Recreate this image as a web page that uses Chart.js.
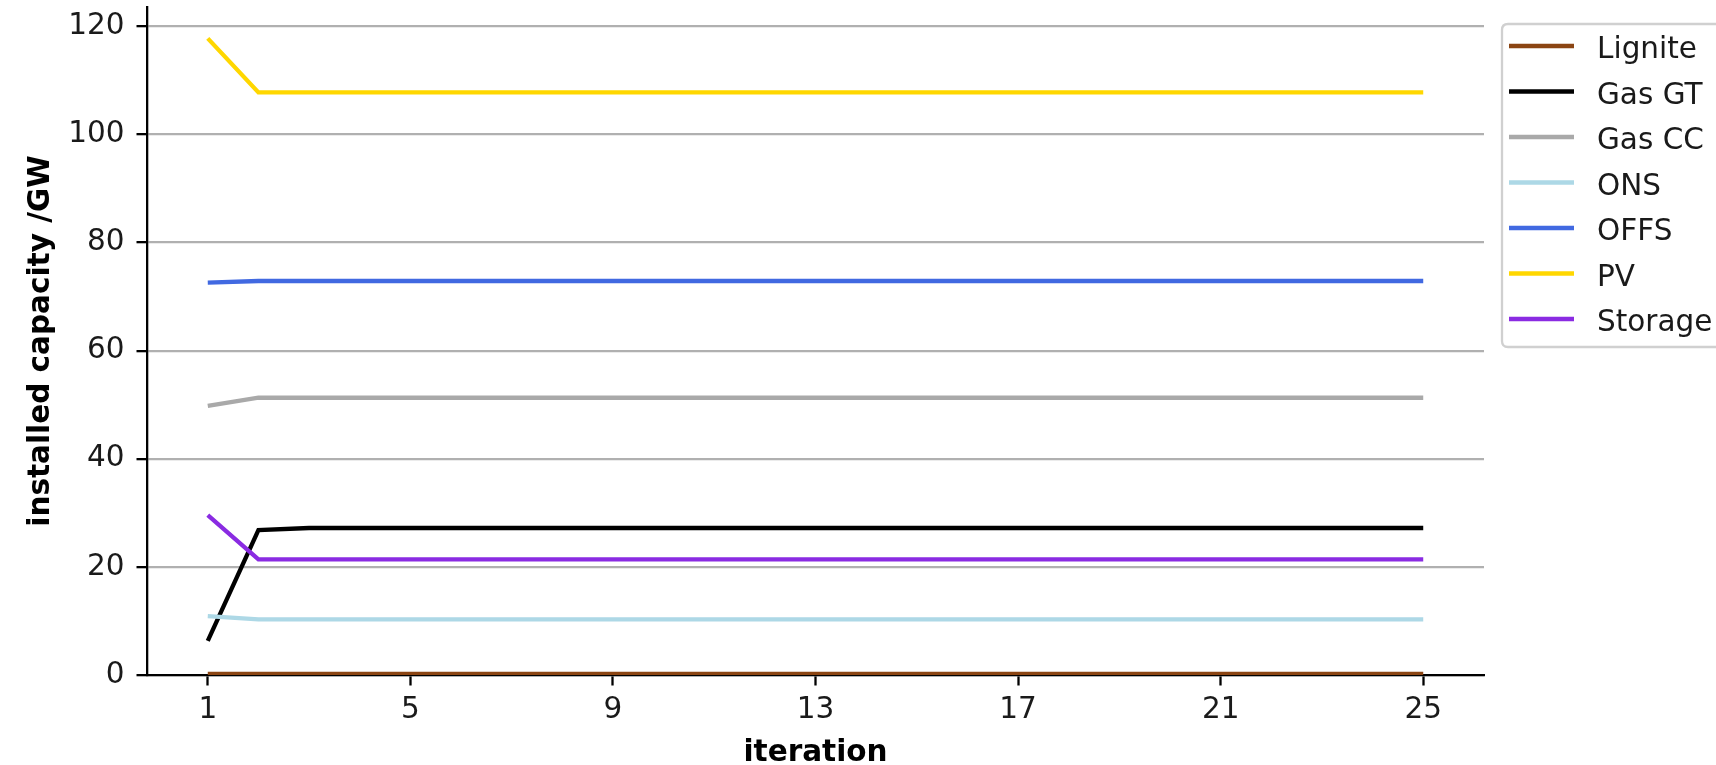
<!DOCTYPE html>
<html>
<head>
<meta charset="utf-8">
<script src="https://cdn.jsdelivr.net/npm/chart.js@4.4.1/dist/chart.umd.min.js"></script>
<style>
  html, body { margin: 0; padding: 0; background: #ffffff; }
  #wrap { width: 1716px; height: 765px; }
</style>
</head>
<body>
<div id="wrap"><canvas id="c" width="1716" height="765"></canvas></div>
<script>
// ---- data ----
const iterations = [1,2,3,4,5,6,7,8,9,10,11,12,13,14,15,16,17,18,19,20,21,22,23,24,25];
const xTickLabels = [1, 5, 9, 13, 17, 21, 25];
const yTickValues = [0, 20, 40, 60, 80, 100, 120];

const seriesNames = ['Lignite', 'Gas GT', 'Gas CC', 'ONS', 'OFFS', 'PV', 'Storage'];
const seriesColors = ['#8B4513', '#000000', '#A9A9A9', '#ADD8E6', '#4169E1', '#FFD700', '#8A2BE2'];

const lignite = [0.2,0.2,0.2,0.2,0.2,0.2,0.2,0.2,0.2,0.2,0.2,0.2,0.2,0.2,0.2,0.2,0.2,0.2,0.2,0.2,0.2,0.2,0.2,0.2,0.2];
const gasGT   = [6.3,26.8,27.2,27.2,27.2,27.2,27.2,27.2,27.2,27.2,27.2,27.2,27.2,27.2,27.2,27.2,27.2,27.2,27.2,27.2,27.2,27.2,27.2,27.2,27.2];
const gasCC   = [49.8,51.3,51.3,51.3,51.3,51.3,51.3,51.3,51.3,51.3,51.3,51.3,51.3,51.3,51.3,51.3,51.3,51.3,51.3,51.3,51.3,51.3,51.3,51.3,51.3];
const ons     = [10.9,10.3,10.3,10.3,10.3,10.3,10.3,10.3,10.3,10.3,10.3,10.3,10.3,10.3,10.3,10.3,10.3,10.3,10.3,10.3,10.3,10.3,10.3,10.3,10.3];
const offs    = [72.6,72.9,72.9,72.9,72.9,72.9,72.9,72.9,72.9,72.9,72.9,72.9,72.9,72.9,72.9,72.9,72.9,72.9,72.9,72.9,72.9,72.9,72.9,72.9,72.9];
const pv      = [117.8,107.8,107.8,107.8,107.8,107.8,107.8,107.8,107.8,107.8,107.8,107.8,107.8,107.8,107.8,107.8,107.8,107.8,107.8,107.8,107.8,107.8,107.8,107.8,107.8];
const storage = [29.6,21.4,21.4,21.4,21.4,21.4,21.4,21.4,21.4,21.4,21.4,21.4,21.4,21.4,21.4,21.4,21.4,21.4,21.4,21.4,21.4,21.4,21.4,21.4,21.4];

const seriesValues = [lignite, gasGT, gasCC, ons, offs, pv, storage];

const FONT = 'DejaVu Sans';
const FS = 29.5;
const LW = 4.3;
const AXW = 2.3;

const datasets = seriesNames.map((name, i) => ({
  label: name,
  data: iterations.map((it, k) => ({ x: it, y: seriesValues[i][k] })),
  borderColor: seriesColors[i],
  backgroundColor: seriesColors[i],
  borderWidth: LW,
  pointRadius: 0,
  tension: 0,
  fill: false,
  order: seriesNames.length - i
}));

// custom matplotlib-like legend
const legendPlugin = {
  id: 'mplLegend',
  afterDraw(chart) {
    const ctx = chart.ctx;
    const x0 = 1502, y0 = 24, w = 240, h = 323;
    ctx.save();
    ctx.beginPath();
    const r = 6;
    ctx.moveTo(x0 + r, y0);
    ctx.lineTo(x0 + w - r, y0);
    ctx.quadraticCurveTo(x0 + w, y0, x0 + w, y0 + r);
    ctx.lineTo(x0 + w, y0 + h - r);
    ctx.quadraticCurveTo(x0 + w, y0 + h, x0 + w - r, y0 + h);
    ctx.lineTo(x0 + r, y0 + h);
    ctx.quadraticCurveTo(x0, y0 + h, x0, y0 + h - r);
    ctx.lineTo(x0, y0 + r);
    ctx.quadraticCurveTo(x0, y0, x0 + r, y0);
    ctx.closePath();
    ctx.fillStyle = 'rgba(255,255,255,0.8)';
    ctx.fill();
    ctx.strokeStyle = '#d0d0d0';
    ctx.lineWidth = AXW;
    ctx.stroke();
    ctx.font = FS + 'px "' + FONT + '"';
    ctx.textBaseline = 'alphabetic';
    ctx.textAlign = 'left';
    chart.data.datasets.forEach((ds, i) => {
      const yy = 46 + i * 45.5;
      ctx.beginPath();
      ctx.strokeStyle = ds.borderColor;
      ctx.lineWidth = LW;
      ctx.moveTo(1509, yy);
      ctx.lineTo(1574, yy);
      ctx.stroke();
      ctx.fillStyle = '#1a1a1a';
      ctx.fillText(ds.label, 1597, yy + 12);
    });
    ctx.restore();
  }
};

new Chart(document.getElementById('c'), {
  type: 'line',
  data: { datasets },
  plugins: [legendPlugin],
  options: {
    responsive: false,
    animation: false,
    devicePixelRatio: 1,
    layout: { padding: { top: 7, right: 232, left: 0, bottom: 0 } },
    plugins: { legend: { display: false }, tooltip: { enabled: false } },
    scales: {
      x: {
        type: 'linear',
        min: -0.2,
        max: 26.2,
        afterBuildTicks(scale) { scale.ticks = xTickLabels.map(v => ({ value: v })); },
        afterFit(scale) { scale.height = 90; scale.paddingLeft = 0; scale.paddingRight = 0; },
        grid: { drawOnChartArea: false, drawTicks: true, tickLength: 10.5, tickColor: '#000000', tickWidth: AXW },
        border: { display: true, color: '#000000', width: AXW },
        ticks: { color: '#1a1a1a', font: { family: FONT, size: FS }, padding: 7, maxRotation: 0, autoSkip: false },
        title: { display: true, text: 'iteration', color: '#000000', font: { family: FONT, size: FS, weight: 'bold', lineHeight: 0.8 }, padding: { top: 0, bottom: 0 } }
      },
      y: {
        type: 'linear',
        min: 0,
        max: 123.6,
        afterBuildTicks(scale) { scale.ticks = yTickValues.map(v => ({ value: v })); },
        afterFit(scale) { scale.width = 147; scale.paddingTop = 0; scale.paddingBottom = 0; },
        grid: { drawOnChartArea: true, color: '#b0b0b0', lineWidth: AXW, drawTicks: true, tickLength: 10.5, tickColor: '#000000', tickWidth: AXW },
        border: { display: true, color: '#000000', width: AXW },
        ticks: { color: '#1a1a1a', font: { family: FONT, size: FS }, padding: 12, autoSkip: false },
        title: { display: true, text: 'installed capacity /GW', color: '#000000', font: { family: FONT, size: FS, weight: 'bold' }, padding: { top: 23.5, bottom: 0 } }
      }
    }
  }
});
</script>
</body>
</html>
